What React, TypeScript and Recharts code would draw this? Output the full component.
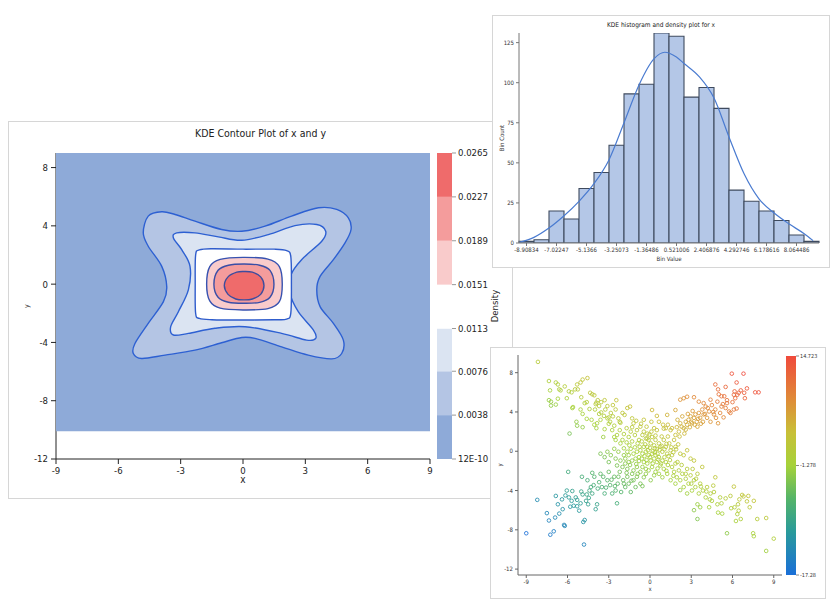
import React from "react";
import { ComposedChart, ScatterChart, BarChart, Scatter, Bar, Line, XAxis, YAxis } from "recharts";

const FONT = "'DejaVu Sans Condensed', 'Liberation Sans', Arial, sans-serif";

// ---- contour plot ----
const densityLevels = [0.0000000012, 0.0038, 0.0076, 0.0113, 0.0151, 0.0189, 0.0227, 0.0265];
const densityLabels = ["12E-10", "0.0038", "0.0076", "0.0113", "0.0151", "0.0189", "0.0227", "0.0265"];
const bandColors = ["#8eaad8", "#b4c5e4", "#dbe4f2", "#ffffff", "#f9cbcb", "#f49c9c", "#ef6b6b"];
const contourTicksX = [-9, -6, -3, 0, 3, 6, 9];
const contourTicksY = [8, 4, 0, -4, -8, -12];
const gridBox = [[-9, 9], [9, 9], [9, -10.1], [-9, -10.1]];

const contour1 = [
  [-4.56, 4.67], [-3.91, 4.97], [-3.27, 4.78], [-2.31, 4.32], [-1.03, 3.75], [-0.06, 3.63],
  [1.06, 3.98], [2.34, 4.67], [3.63, 5.24], [4.51, 5.13], [5.07, 4.55], [5.2, 3.75],
  [4.91, 2.83], [4.35, 1.68], [3.71, 0.53], [3.55, -0.39], [3.71, -1.54], [4.35, -2.69],
  [4.83, -3.84], [4.75, -4.76], [4.27, -5.13], [3.14, -4.87], [1.86, -4.3], [0.58, -3.72],
  [-0.06, -3.66], [-1.03, -4.02], [-2.31, -4.53], [-3.75, -4.87], [-4.88, -5.1], [-5.28, -4.76],
  [-5.2, -4.07], [-4.56, -2.69], [-3.83, -1.2], [-3.67, -0.16], [-3.91, 1.22], [-4.56, 2.6],
  [-4.8, 3.52],
];
const contour2 = [
  [-3.35, 3.17], [-3.19, 3.52], [-2.31, 3.52], [-1.19, 3.24], [-0.06, 3.01], [1.22, 3.4],
  [2.5, 4.02], [3.55, 4.09], [3.98, 3.63], [3.79, 2.94], [2.82, 1.68], [2.31, 0.64],
  [2.26, -0.62], [2.66, -1.89], [3.39, -3.15], [3.5, -3.72], [3.06, -3.84], [1.86, -3.38],
  [0.1, -2.92], [-1.35, -3.03], [-2.63, -3.38], [-3.35, -3.49], [-3.48, -2.92], [-3.11, -1.89],
  [-2.63, -0.39], [-2.55, 1.22], [-2.95, 2.37],
];
const contour3 = [
  [-2.28, 2.0], [-2.1, 2.35], [-1.5, 2.43], [0, 2.4], [1.5, 2.4], [2.1, 2.3], [2.3, 1.9],
  [2.33, 0], [2.3, -2.0], [2.1, -2.4], [1.5, -2.44], [0, -2.46], [-1.5, -2.44], [-2.1, -2.35],
  [-2.28, -2.0], [-2.3, 0],
];
const contour4 = [
  [-1.75, 0], [-1.6, 1.2], [-1.1, 1.7], [0, 1.84], [1.2, 1.72], [1.75, 1.2], [1.89, 0],
  [1.75, -1.2], [1.2, -1.68], [0, -1.77], [-1.1, -1.65], [-1.6, -1.15],
];
const contour5 = [
  [-1.4, 0], [-1.2, 0.95], [-0.7, 1.3], [0.05, 1.38], [0.8, 1.3], [1.3, 0.95], [1.49, 0],
  [1.3, -0.9], [0.8, -1.25], [0.05, -1.31], [-0.7, -1.24], [-1.2, -0.9],
];
const contour6 = [
  [-0.9, -0.1], [-0.72, 0.5], [-0.3, 0.82], [0.05, 0.87], [0.45, 0.82], [0.85, 0.5], [1.01, -0.1],
  [0.85, -0.7], [0.45, -1.02], [0.05, -1.08], [-0.35, -1.02], [-0.72, -0.7],
];
const contours = [contour1, contour2, contour3, contour4, contour5, contour6];
const contourStrokes = ["#2d60d2", "#2d60d2", "#2f5ccc", "#3752b0", "#3a4ea6", "#3d4c9e"];

// ---- histogram ----
const binCenters = [
  -8.90834, -7.965405, -7.02247, -6.079535, -5.1366, -4.193665, -3.25073, -2.307795, -1.36486, -0.421925,
  0.521006, 1.463941, 2.406876, 3.349811, 4.292746, 5.235681, 6.178616, 7.121551, 8.064486, 9.007421,
];
const binCounts = [1, 2, 20, 15, 34, 44, 61, 93, 99, 131, 129, 91, 97, 84, 33, 26, 20, 14, 5, 1];
const binTicks = [-8.90834, -7.02247, -5.1366, -3.25073, -1.36486, 0.521006, 2.406876, 4.292746, 6.178616, 8.064486];
const countTicks = [0, 25, 50, 75, 100, 125];
const kdeX = [-9.38, -8.44, -7.5, -6.55, -5.61, -4.67, -3.72, -2.78, -1.84, -0.89, -0.22, 0.51, 0.99, 1.94, 2.88, 3.82, 4.77, 5.71, 6.65, 7.6, 8.54, 9.1];
const kdeY = [0.4, 3.5, 9.3, 17, 26, 37, 52, 75, 98.6, 115, 119, 116, 112, 103.8, 90.3, 66, 43, 27.4, 18.7, 11.8, 5.8, 1.5];

// ---- scatter ----
const scatterTicksX = [-9, -6, -3, 0, 3, 6, 9];
const scatterTicksY = [8, 4, 0, -4, -8, -12];
const colorRange = [-17.28, 14.723];
const colorTicks = [-17.28, -1.278, 14.723];
const colorStops: [number, string][] = [
  [0, "#1a6fd8"], [0.2, "#2a9b9a"], [0.35, "#55b468"], [0.5, "#a6d23a"],
  [0.65, "#c8c038"], [0.8, "#df8c38"], [1, "#f04a3c"],
];
const scatterXY = [
  [-8.15, 9.1], [-7.35, 7.15], [-7.27, 6.2], [-6.85, 7.0], [-6.7, 6.8], [-6.6, 6.3], [-6.5, 6.2], [-7.35, 5.2],
  [-7.2, 5.05], [-7.2, 4.65], [-6.85, 4.75], [-6.7, 5.35], [-6.05, 5.4], [-5.9, 6.1], [-5.7, 6.0], [-5.45, 6.3],
  [-5.3, 6.8], [-5.05, 7.0], [-4.55, 7.45], [-4.9, 7.3], [-5.25, 6.3], [-5.65, 4.4], [-5.6, 4.5], [-5.85, 1.8],
  [-5.35, 3.0], [-5.3, 2.6], [-5.05, 4.25], [-4.9, 3.8], [-4.9, 2.45], [-4.75, 4.9], [-4.6, 3.3], [-4.35, 5.95],
  [-4.2, 5.8], [-4.05, 5.7], [-3.95, 4.8], [-3.9, 4.95], [-3.8, 5.2], [-3.7, 4.6], [-3.55, 5.0], [-3.3, 5.2],
  [-4.0, 4.25], [-4.25, 3.2], [-4.05, 2.7], [-3.9, 2.35], [-3.85, 2.85], [-3.6, 3.2], [-3.55, 3.95], [-3.35, 3.6],
  [-3.25, 4.25], [-3.1, 3.35], [-3.0, 3.45], [-2.9, 3.0], [-2.85, 3.9], [-2.7, 3.55], [-2.5, 4.25], [-2.45, 5.2],
  [-2.3, 3.35], [-2.15, 2.9], [-2.0, 3.9], [-1.85, 3.7], [-1.65, 4.4], [-1.45, 4.55], [-1.3, 3.35], [-1.2, 2.85],
  [-3.3, 2.25], [-3.4, 1.45], [-2.75, 2.15], [-2.6, 1.45], [-2.5, 1.15], [-2.4, 1.65], [-2.2, 2.15], [-2.0, 1.15],
  [-1.9, 1.75], [-1.7, 2.35], [-1.55, 1.45], [-1.4, 2.0], [-1.3, 2.45], [-1.1, 1.65], [-0.95, 2.15], [-0.8, 1.15],
  [-0.7, 2.5], [-0.55, 1.65], [-0.45, 2.0], [-0.3, 1.3], [-0.2, 1.8],
  [-0.1, 1.15], [0.05, 0.8], [0.15, 1.45], [0.3, 0.6], [0.4, 1.15], [0.5, 0.25], [0.65, 0.8], [0.75, 0.45],
  [0.9, -0.05], [1.0, 1.15], [1.15, 0.45], [1.25, -0.25], [1.4, 0.8], [1.5, 0.1], [1.6, -0.4], [1.75, 1.15],
  [1.85, 0.45], [-0.2, 0.45], [-0.3, -0.05], [-0.45, 0.45], [-0.55, -0.25], [-0.7, 0.1], [-0.8, -0.6], [-0.95, -0.05],
  [-1.05, -0.75], [-1.2, -0.25], [-1.3, -0.95], [-1.4, 0.25], [-1.55, -0.4], [-1.65, -0.05], [-1.8, -0.75], [-0.1, -0.4],
  [0.05, -0.95], [0.15, -0.25], [0.3, -0.75], [0.4, -0.4], [0.5, -1.1], [0.65, -0.6], [0.75, -1.45], [0.9, -0.95],
  [1.0, -1.8], [1.15, -1.1], [-0.2, -1.25], [-0.3, -1.8], [-0.45, -1.1], [-0.55, -1.6], [-0.7, -2.1], [-0.95, -1.6],
  [-1.2, -1.95], [-0.1, -1.95], [0.15, -1.6], [0.4, -2.1], [0.65, -2.3], [0.3, -2.45], [0.9, -2.65], [0.05, -2.95],
  [-0.45, -2.65], [-0.2, 1.3], [0.1, 2.0], [0.3, 2.35], [0.5, 2.15], [0.65, 3.0], [0.95, 2.7], [0.15, 4.2],
  [-0.45, 3.2], [-0.25, 2.5],
  [1.15, 2.35], [1.3, 2.7], [1.5, 2.15], [1.6, 2.35], [1.85, 1.65], [1.95, 2.45], [2.1, 2.0], [2.15, 1.5],
  [2.2, 2.85], [2.35, 3.55], [2.45, 2.35], [2.5, 1.8], [2.6, 3.0], [2.7, 2.7], [2.8, 3.2], [2.9, 2.45],
  [2.95, 3.55], [3.05, 2.85], [3.2, 3.4], [3.3, 3.75], [3.4, 3.0], [3.45, 2.5], [3.55, 3.9], [3.65, 3.4],
  [3.8, 4.25], [3.85, 3.0], [3.9, 3.75], [4.05, 4.55], [4.15, 3.4], [4.3, 4.05], [4.4, 3.0], [4.5, 4.7],
  [4.65, 3.75], [4.75, 4.25], [4.9, 5.05], [4.95, 2.85], [5.1, 3.9], [5.2, 4.55], [5.35, 3.45], [5.5, 4.4],
  [5.75, 4.05], [5.85, 3.9], [6.1, 4.25], [6.3, 4.35], [4.75, 6.8], [4.95, 6.3], [5.2, 5.6], [5.4, 5.6],
  [5.5, 6.55], [5.6, 4.9], [5.95, 7.9], [6.1, 5.75], [6.15, 6.1], [6.2, 5.4], [6.3, 7.0], [6.35, 5.75],
  [6.45, 5.95], [6.8, 7.9], [6.85, 5.95], [6.9, 5.4], [7.05, 6.4], [7.65, 6.0], [7.9, 6.0], [1.85, 4.2],
  [1.25, 3.7], [2.2, 5.25], [2.45, 5.4], [2.7, 5.55], [3.2, 5.5], [3.55, 5.05], [3.9, 4.9], [4.4, 5.25],
  [-9.0, -8.35], [-8.2, -4.95], [-7.5, -6.3], [-7.35, -7.05], [-7.25, -8.5], [-7.0, -8.15], [-6.9, -6.75], [-6.85, -4.55],
  [-6.7, -5.4], [-6.6, -6.35], [-6.35, -5.9], [-6.25, -7.5], [-6.2, -7.6], [-6.15, -4.5], [-6.05, -4.0], [-5.95, -2.1],
  [-5.8, -5.65], [-5.7, -5.05], [-5.65, -4.05], [-5.55, -5.55], [-5.4, -4.7], [-5.3, -4.95], [-5.15, -6.05], [-5.05, -5.3],
  [-4.9, -4.4], [-4.85, -7.2], [-4.8, -9.5], [-4.75, -7.0], [-4.65, -5.05], [-4.6, -4.4], [-4.5, -5.4], [-4.45, -4.75],
  [-4.3, -3.65], [-4.2, -4.3], [-4.1, -3.45], [-3.95, -5.9], [-3.85, -5.4], [-3.7, -3.15], [-4.95, -2.6], [-4.55, -2.95],
  [-4.05, -2.6], [-3.6, -2.3], [-3.5, -3.65], [-3.3, -4.3], [-3.1, -2.95], [-3.0, -2.1], [-2.9, -3.45], [-2.75, -4.3],
  [-2.6, -2.6], [-2.5, -4.0], [-2.4, -5.3], [-2.35, -3.3], [-2.2, -2.1], [-2.1, -4.15], [-1.95, -2.95], [-1.8, -3.65],
  [-1.65, -2.6], [-1.55, -3.3], [-1.4, -4.15], [-1.3, -2.3], [-1.2, -2.95], [-1.05, -3.65], [-0.95, -2.6], [-0.7, -3.3],
  [-0.55, -3.55], [-3.6, -0.25], [-3.3, -0.6], [-3.1, -0.05], [-3.0, -1.1], [-2.85, -0.4], [-2.6, 0.25], [-2.5, -0.75],
  [-2.4, -1.45], [-2.3, -0.05], [-2.15, -0.95], [-2.0, -1.6], [-1.9, -0.4], [-1.8, -1.25], [-1.65, -1.8], [-1.55, -1.1],
  [-2.15, 0.8],
  [1.6, -1.6], [1.75, -2.1], [1.85, -1.25], [1.95, -2.65], [2.1, -1.95], [2.2, -2.95], [2.35, -2.3], [2.45, -3.65],
  [2.6, -2.8], [2.7, -1.8], [2.8, -3.3], [2.95, -2.45], [3.05, -4.0], [3.2, -2.95], [3.3, -3.65], [3.45, -2.3],
  [3.55, -4.3], [3.65, -3.3], [3.8, -1.6], [3.85, -4.0], [4.05, -4.7], [4.15, -3.65], [4.3, -5.7], [4.4, -4.3],
  [4.5, -5.05], [4.65, -4.15], [4.75, -2.65], [4.9, -5.4], [4.95, -6.25], [5.1, -4.7], [5.25, -6.35], [5.6, -8.35],
  [5.85, -4.55], [6.1, -3.6], [6.15, -5.7], [6.25, -7.1], [6.35, -6.4], [6.4, -5.4], [6.45, -6.05], [6.6, -6.9],
  [6.7, -4.45], [6.8, -4.6], [7.05, -5.1], [7.15, -4.55], [7.25, -5.7], [7.5, -8.35], [7.55, -8.65], [7.55, -5.05],
  [7.8, -6.9], [8.45, -6.8], [8.45, -10.15], [9.0, -8.9], [3.45, -5.4], [3.65, -5.7], [3.2, -6.0], [3.45, -6.9],
  [2.7, -4.3], [2.2, -3.95], [1.85, -3.3], [1.5, -2.95], [1.25, -2.3], [2.45, -0.4], [2.7, 0.1], [2.2, -0.25],
  [2.95, -0.75], [3.2, -0.95],
  [-1.9, 0.3], [-1.7, 0.9], [-1.5, 0.6], [-1.3, 1.0], [-1.1, 0.4], [-0.9, 0.8], [-0.75, 0.45], [-0.6, 1.0],
  [-0.35, 0.7], [-0.15, 0.1], [0.0, 0.35], [0.2, 0.0], [0.35, 0.3], [0.55, -0.25], [0.7, 0.15], [0.85, 0.55],
  [1.05, 0.2], [1.2, 0.75], [1.35, -0.5], [1.55, 0.4], [1.7, -0.1], [1.9, 0.2], [2.05, 0.7], [-1.0, -1.3],
  [-0.8, -1.0], [-0.6, -0.75], [-0.4, -0.5], [-0.25, -0.9], [0.0, -0.6], [0.2, -1.25], [0.35, -0.1], [0.6, -0.85],
  [0.8, -1.25], [1.05, -0.6], [1.3, -1.4], [1.45, -0.9], [-1.45, -1.4], [-1.7, -2.2], [-0.9, -2.3], [-0.3, -2.3],
  [0.55, -1.75], [1.2, -2.0], [-0.05, 1.7], [0.4, 1.6], [0.85, 1.5], [1.3, 1.5], [-0.65, 2.8], [-1.0, 3.1],
  [0.1, 3.0], [0.5, 3.6], [1.0, 2.3], [-2.6, 2.6], [-2.2, 3.0], [-3.0, 2.8], [-3.7, 3.8], [-4.4, 4.3],
  [-4.6, 5.0], [-5.0, 5.5], [-6.2, 6.6], [-3.1, 4.6], [-2.7, 4.7],
  [2.0, 3.2], [2.3, 2.5], [2.6, 2.2], [3.0, 3.0], [3.25, 2.7], [3.5, 3.3], [3.7, 2.8], [4.0, 3.8],
  [4.2, 4.4], [4.6, 4.0], [4.8, 3.4], [5.3, 4.8], [5.6, 5.2], [6.0, 5.0], [6.6, 6.2], [5.0, 5.8],
  [3.1, 4.1], [2.75, 3.8],
  [-3.4, -2.6], [-3.8, -3.8], [-4.4, -4.0], [-5.0, -4.1], [-5.3, -5.6], [-5.9, -4.7], [-6.4, -4.9], [-4.2, -2.2],
  [-3.2, -3.7], [-2.8, -2.9], [-2.3, -2.6], [-1.9, -3.3], [-1.35, -3.0], [-2.55, -3.55],
  [2.3, -1.4], [2.6, -2.3], [3.0, -3.3], [3.35, -2.8], [3.7, -3.6], [4.1, -4.1], [4.35, -4.9], [4.6, -3.5],
  [5.2, -5.3], [5.5, -4.8], [5.9, -5.8], [6.5, -4.9], [3.1, -1.8], [2.0, -1.1], [1.7, -2.5],
];

const toPts = (arr: number[][]) => arr.map(([x, y]) => ({ x, y }));

function closedPath(pts: { x: number; y: number }[], smooth: boolean) {
  const n = pts.length;
  let d = `M${pts[0].x},${pts[0].y}`;
  for (let i = 0; i < n; i++) {
    const p1 = pts[i];
    const p2 = pts[(i + 1) % n];
    if (!smooth) {
      d += `L${p2.x},${p2.y}`;
      continue;
    }
    const p0 = pts[(i - 1 + n) % n];
    const p3 = pts[(i + 2) % n];
    const c1x = p1.x + (p2.x - p0.x) / 6;
    const c1y = p1.y + (p2.y - p0.y) / 6;
    const c2x = p2.x - (p3.x - p1.x) / 6;
    const c2y = p2.y - (p3.y - p1.y) / 6;
    d += `C${c1x},${c1y} ${c2x},${c2y} ${p2.x},${p2.y}`;
  }
  return d + "Z";
}

function hexToRgb(h: string) {
  return [1, 3, 5].map((i) => parseInt(h.slice(i, i + 2), 16));
}

function colorFor(v: number) {
  const t = Math.max(0, Math.min(1, (v - colorRange[0]) / (colorRange[1] - colorRange[0])));
  for (let i = 1; i < colorStops.length; i++) {
    if (t <= colorStops[i][0]) {
      const [t0, c0] = colorStops[i - 1];
      const [t1, c1] = colorStops[i];
      const f = (t - t0) / (t1 - t0);
      const a = hexToRgb(c0);
      const b = hexToRgb(c1);
      const c = a.map((av, k) => Math.round(av + (b[k] - av) * f));
      return `rgb(${c[0]},${c[1]},${c[2]})`;
    }
  }
  return colorStops[colorStops.length - 1][1];
}

const noDot = () => <g />;

const panel = (left: number, top: number, width: number, height: number): React.CSSProperties => ({
  position: "absolute",
  left,
  top,
  width,
  height,
  background: "#fff",
  border: "1px solid #d6d6d6",
});

function ContourPanel() {
  const colorRow = [
    Object.fromEntries(
      bandColors.map((_, i) => [`b${i}`, densityLevels[i + 1] - (i === 0 ? 0 : densityLevels[i])])
    ),
  ];
  return (
    <div style={panel(8, 121, 503, 376)}>
      <div style={{ position: "absolute", top: 5, left: 0, width: 503, textAlign: "center", fontSize: 10.5, color: "#222", lineHeight: "12px" }}>
        KDE Contour Plot of x and y
      </div>
      <div style={{ position: "absolute", left: 0, top: 0 }}>
        <ComposedChart width={430} height={372} margin={{ top: 31, right: 9, bottom: 5, left: 17 }}>
          <XAxis
            type="number"
            dataKey="x"
            domain={[-9, 9]}
            ticks={contourTicksX}
            interval={0}
            tickSize={5}
            tickMargin={3}
            height={30}
            stroke="#222"
            tick={{ fontSize: 9.5, fill: "#222" }}
            label={{ value: "x", position: "bottom", offset: -13, fontSize: 10, fill: "#222" }}
          />
          <XAxis xAxisId="top" orientation="top" type="number" domain={[-9, 9]} tick={false} tickLine={false} height={0} stroke="#222" />
          <YAxis
            type="number"
            dataKey="y"
            domain={[-12, 9]}
            ticks={contourTicksY}
            interval={0}
            tickSize={5}
            tickMargin={3}
            width={30}
            stroke="#222"
            tick={{ fontSize: 9.5, fill: "#222" }}
            label={{ value: "y", angle: -90, position: "left", offset: -1, fontSize: 7, fill: "#222", style: { textAnchor: "middle" } }}
          />
          <YAxis yAxisId="right" orientation="right" domain={[0, 1]} tick={false} tickLine={false} width={0} stroke="#222" />
          <Scatter
            data={toPts(gridBox)}
            isAnimationActive={false}
            shape={noDot}
            line={(p: any) => <path d={closedPath(p.points, false)} fill={bandColors[0]} stroke="none" />}
            lineType="joint"
          />
          {contours.map((c, i) => (
            <Scatter
              key={i}
              data={toPts(c)}
              isAnimationActive={false}
              shape={noDot}
              line={(p: any) => (
                <path d={closedPath(p.points, true)} fill={bandColors[i + 1]} stroke={contourStrokes[i]} strokeWidth={1.4} />
              )}
              lineType="joint"
            />
          ))}
        </ComposedChart>
      </div>
      <div style={{ position: "absolute", left: 428, top: 0 }}>
        <BarChart width={75} height={372} data={colorRow} barCategoryGap={0} margin={{ top: 31, right: 0, bottom: 35, left: 0 }}>
          <XAxis hide />
          <YAxis
            orientation="right"
            type="number"
            domain={[0, densityLevels[densityLevels.length - 1]]}
            ticks={densityLevels}
            interval={0}
            tickFormatter={(v: number) => densityLabels[densityLevels.indexOf(v)] ?? ""}
            width={60}
            tickSize={4}
            tickMargin={2}
            axisLine={false}
            stroke="#999"
            tick={{ fontSize: 9.5, fill: "#222" }}
            label={{ value: "Density", angle: -90, position: "insideRight", offset: 17, fontSize: 9.5, fill: "#222", style: { textAnchor: "middle" } }}
          />
          {bandColors.map((c, i) => (
            <Bar key={i} dataKey={`b${i}`} stackId="c" fill={c} isAnimationActive={false} />
          ))}
        </BarChart>
      </div>
    </div>
  );
}

function HistogramPanel() {
  const bins = binCenters.map((x, i) => ({ x, count: binCounts[i] }));
  const kde = kdeX.map((x, i) => ({ x, d: kdeY[i] }));
  return (
    <div style={panel(492, 15, 336, 251)}>
      <div style={{ position: "absolute", top: 5, left: 0, width: 336, textAlign: "center", fontSize: 6.5, color: "#222", lineHeight: "8px" }}>
        KDE histogram and density plot for x
      </div>
      <div style={{ position: "absolute", left: 0, top: 0 }}>
        <ComposedChart width={336} height={251} data={bins} barCategoryGap={0} margin={{ top: 17, right: 10, bottom: 0, left: 8 }}>
          <XAxis
            type="category"
            dataKey="x"
            ticks={binTicks}
            interval={0}
            tickFormatter={(v: number) => String(v)}
            tickSize={3}
            tickMargin={2}
            height={24}
            stroke="#777"
            tick={{ fontSize: 6, fill: "#333" }}
            label={{ value: "Bin Value", position: "bottom", offset: -10, fontSize: 6, fill: "#333" }}
          />
          <XAxis xAxisId="num" type="number" dataKey="x" domain={[-9.38, 9.47]} hide />
          <XAxis xAxisId="top" orientation="top" type="number" domain={[-9.38, 9.47]} tick={false} tickLine={false} height={0} stroke="#777" />
          <YAxis
            type="number"
            domain={[0, 131]}
            ticks={countTicks}
            interval={0}
            tickSize={3}
            tickMargin={2}
            width={18}
            stroke="#777"
            tick={{ fontSize: 6, fill: "#333" }}
            label={{ value: "Bin Count", angle: -90, position: "insideLeft", offset: 1, fontSize: 6, fill: "#333", style: { textAnchor: "middle" } }}
            allowDataOverflow
          />
          <YAxis yAxisId="right" orientation="right" domain={[0, 1]} tick={false} tickLine={false} width={0} stroke="#777" />
          <Bar dataKey="count" fill="#b4c7e7" stroke="#3e4a5e" strokeWidth={1.1} isAnimationActive={false} />
          <Line xAxisId="num" data={kde} dataKey="d" type="monotone" stroke="#4a7bd0" strokeWidth={1.2} dot={false} isAnimationActive={false} />
        </ComposedChart>
      </div>
    </div>
  );
}

function ScatterPanel() {
  const pts = toPts(scatterXY);
  const colorRow = [{ r: colorRange }];
  return (
    <div style={panel(490, 347, 334, 250)}>
      <div style={{ position: "absolute", left: 0, top: 0 }}>
        <ScatterChart width={300} height={248} margin={{ top: 7, right: 9, bottom: 7, left: 9 }}>
          <XAxis
            type="number"
            dataKey="x"
            domain={[-9.6, 9.6]}
            ticks={scatterTicksX}
            interval={0}
            tickSize={3}
            tickMargin={2}
            height={14}
            stroke="#666"
            tick={{ fontSize: 6, fill: "#333" }}
            label={{ value: "x", position: "bottom", offset: -2, fontSize: 6, fill: "#333", style: { fill: "#333" } }}
          />
          <XAxis xAxisId="top" orientation="top" type="number" domain={[-9.6, 9.6]} tick={false} tickLine={false} height={0} stroke="#666" />
          <YAxis
            type="number"
            dataKey="y"
            domain={[-12.6, 9.8]}
            ticks={scatterTicksY}
            interval={0}
            tickSize={3}
            tickMargin={2}
            width={18}
            stroke="#666"
            tick={{ fontSize: 6, fill: "#333" }}
            label={{ value: "y", angle: -90, position: "insideLeft", offset: 0, fontSize: 6, fill: "#333", style: { textAnchor: "middle", fill: "#333" } }}
          />
          <YAxis yAxisId="right" orientation="right" domain={[0, 1]} tick={false} tickLine={false} width={0} stroke="#666" />
          <Scatter
            data={pts}
            isAnimationActive={false}
            shape={(p: any) => (
              <circle cx={p.cx} cy={p.cy} r={1.8} fill="none" stroke={colorFor(p.payload.x + p.payload.y)} strokeWidth={0.85} />
            )}
          />
        </ScatterChart>
      </div>
      <div style={{ position: "absolute", left: 295, top: 0 }}>
        <BarChart width={40} height={248} data={colorRow} barCategoryGap={0} margin={{ top: 8, right: 0, bottom: 21, left: 0 }}>
          <defs>
            <linearGradient id="scatterScale" x1="0" y1="1" x2="0" y2="0">
              {colorStops.map(([t, c]) => (
                <stop key={t} offset={t} stopColor={c} />
              ))}
            </linearGradient>
          </defs>
          <XAxis hide />
          <YAxis
            orientation="right"
            type="number"
            domain={colorRange}
            ticks={colorTicks}
            interval={0}
            tickSize={3}
            tickMargin={1}
            width={30}
            axisLine={false}
            stroke="#888"
            tick={{ fontSize: 5.5, fill: "#333" }}
          />
          <Bar dataKey="r" fill="url(#scatterScale)" isAnimationActive={false} />
        </BarChart>
      </div>
    </div>
  );
}

export default function App() {
  return (
    <div style={{ position: "absolute", left: 0, top: 0, width: 836, height: 612, background: "#fff", fontFamily: FONT, overflow: "hidden" }}>
      <ContourPanel />
      <HistogramPanel />
      <ScatterPanel />
    </div>
  );
}
